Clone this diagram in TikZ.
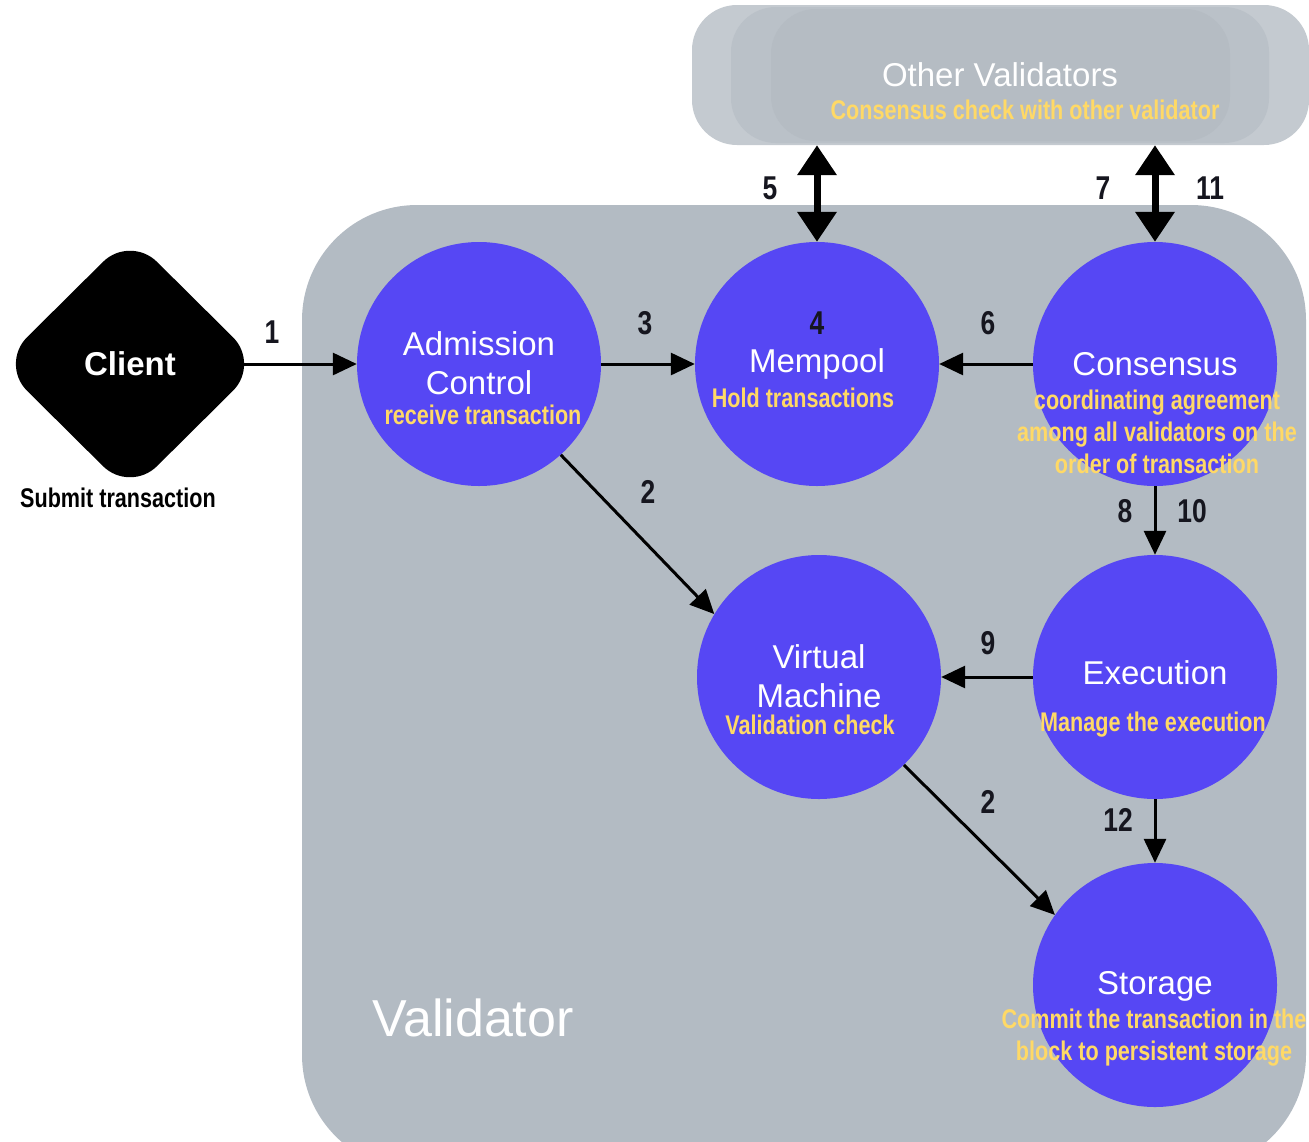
\documentclass[tikz,border=0pt]{standalone}
\usepackage{fontspec}
\setmainfont{Liberation Sans}
\newfontfamily\narrowfont{Liberation Sans}[FakeStretch=0.8]
\usepackage{tikz}
\usetikzlibrary{shapes.geometric}
\usetikzlibrary{arrows.meta}
\definecolor{valgray}{HTML}{B3BBC3}
\definecolor{othergray}{HTML}{C4CAD0}
\definecolor{othermid}{HTML}{BAC1C8}
\definecolor{otherin}{HTML}{B5BCC3}
\definecolor{modblue}{HTML}{5647F4}
\definecolor{noteyellow}{HTML}{FFD966}
\definecolor{numdark}{HTML}{16161F}

\begin{document}
\begin{tikzpicture}[x=1pt, y=-1pt,
  module/.style={circle, fill=modblue, minimum size=244pt, inner sep=0pt},
  modtitle/.style={text=white, align=center, font=\fontsize{33}{39}\selectfont},
  note/.style={text=noteyellow, align=center, font=\narrowfont\bfseries\fontsize{27}{32}\selectfont},
  num/.style={text=numdark, font=\narrowfont\bfseries\fontsize{33}{36}\selectfont},
  flow/.style={line width=3pt, -{Triangle[length=24pt, width=22pt]}},
  sync/.style={line width=7pt, {Triangle[length=30pt, width=38pt]}-{Triangle[length=30pt, width=38pt]}}]
\useasboundingbox (0,0) rectangle (1309,1141);
\clip (0,0) rectangle (1309,1141);

% validator area
\fill[valgray, rounded corners=115pt] (302,205) rectangle (1306,1170);
\node[modtitle, font=\fontsize{52}{56}\selectfont] (valtitle) at (473,1018) {Validator};

% other validators
\node[rectangle, rounded corners=45pt, fill=othergray, minimum width=617pt, minimum height=140pt, inner sep=0pt] (others) at (1000.5,75) {};
\fill[othermid, rounded corners=45pt] (731,7) rectangle (1269,143);
\fill[otherin, rounded corners=45pt] (771,9) rectangle (1230,141);
\node[modtitle] (othtitle) at (1000,75) {Other Validators};
\node[note] (othnote) at (1025,110) {Consensus check with other validator};

% client
\node[diamond, aspect=1, fill=black, rounded corners=38pt, minimum width=260pt, minimum height=258pt, inner sep=0pt, text=white, font=\bfseries\fontsize{33}{36}\selectfont] (client) at (130,364) {Client};
\node[num, font=\narrowfont\bfseries\fontsize{27}{30}\selectfont, text=black] (clinote) at (118,498) {Submit transaction};

% modules
\node[module] (adm) at (479,364) {};
\node[module] (mem) at (817,364) {};
\node[module] (cons) at (1155,364) {};
\node[module] (vm) at (819,677) {};
\node[module] (exec) at (1155,677) {};
\node[module] (stor) at (1155,985) {};

\node[modtitle] (admtitle) at (479,363) {Admission\\Control};
\node[note] (admnote) at (483,415) {receive transaction};
\node[num] (memnum) at (817,323) {4};
\node[modtitle] (memtitle) at (817,364) {Mempool};
\node[note] (memnote) at (803,398) {Hold transactions};
\node[modtitle] (constitle) at (1155,364) {Consensus};
\node[note] (consnote) at (1157,432) {coordinating agreement\\among all validators on the\\order of transaction};
\node[modtitle] (vmtitle) at (819,676) {Virtual\\Machine};
\node[note] (vmnote) at (810,725) {Validation check};
\node[modtitle] (exectitle) at (1155,673) {Execution};
\node[note] (execnote) at (1153,725) {Manage the execution};
\node[modtitle] (stortitle) at (1155,986) {Storage};
\node[note] (stornote) at (1154,1038) {Commit the transaction in the\\block to persistent storage};

% connectors
\draw[flow, shorten <=-18pt] (client.east) -- (adm.west);
\draw[flow] (adm.east) -- (mem.west);
\draw[flow] (cons.west) -- (mem.east);
\draw[flow] (adm.-48) -- (vm.149);
\draw[flow] (vm.-46) -- (stor.145);
\draw[flow] (exec.west) -- (vm.east);
\draw[flow] (cons.south) -- (exec.north);
\draw[flow] (exec.south) -- (stor.north);
\draw[sync] (mem.north) -- (mem.north |- others.south);
\draw[sync] (cons.north) -- (cons.north |- others.south);

% step numbers
\node[num] (n1) at (272,332) {1};
\node[num] (n3) at (645,323) {3};
\node[num] (n6) at (988,323) {6};
\node[num] (n2a) at (648,492) {2};
\node[num] (n5) at (770,188) {5};
\node[num] (n7) at (1103,188) {7};
\node[num] (n11) at (1210,188) {11};
\node[num] (n8) at (1125,511) {8};
\node[num] (n10) at (1192,511) {10};
\node[num] (n9) at (988,643) {9};
\node[num] (n2b) at (988,802) {2};
\node[num] (n12) at (1118,820) {12};
\end{tikzpicture}
\end{document}
